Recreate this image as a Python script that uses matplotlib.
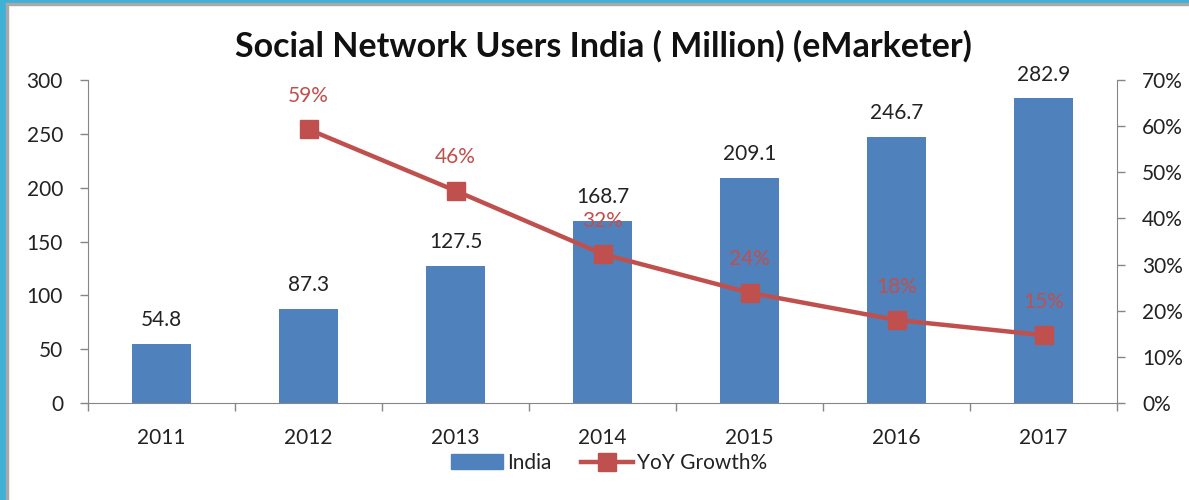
import matplotlib.pyplot as plt
from matplotlib.patches import Rectangle
from matplotlib.ticker import FuncFormatter
from matplotlib.lines import Line2D
from matplotlib.patches import Patch

years = ['2011', '2012', '2013', '2014', '2015', '2016', '2017']
users = [54.8, 87.3, 127.5, 168.7, 209.1, 246.7, 282.9]
growth_years = ['2012', '2013', '2014', '2015', '2016', '2017']
growth = [0.593, 0.460, 0.323, 0.239, 0.180, 0.147]

bar_color = '#4F81BD'
line_color = '#C0504D'
axis_color = '#868686'

plt.rcParams['font.family'] = ['Lato', 'DejaVu Sans']

fig = plt.figure(figsize=(11.89, 5.0), dpi=100)
ax = fig.add_axes([88/1189, 1 - 403/500, (1117 - 88)/1189, (403 - 80)/500])

x = list(range(len(years)))
bars = ax.bar(x, users, width=0.4, color=bar_color, zorder=2)
ax.bar_label(bars, labels=[f'{v:.1f}' for v in users], padding=10, fontsize=15, color='#222222')

ax.set_xlim(-0.5, len(years) - 0.5)
ax.set_ylim(0, 300)
ax.set_yticks(range(0, 301, 50))
ax.set_xticks(x)
ax.set_xticklabels(years)
ax.set_xticks([i - 0.5 for i in range(len(years) + 1)], minor=True)
ax.tick_params(axis='x', which='major', length=0, pad=18, labelsize=15, colors='#222222')
ax.tick_params(axis='x', which='minor', length=6, width=1, color=axis_color, direction='out')
ax.tick_params(axis='y', length=6, width=1, color=axis_color, pad=12, labelsize=15, labelcolor='#222222')
for s in ['top', 'right']:
    ax.spines[s].set_visible(False)
for s in ['left', 'bottom']:
    ax.spines[s].set_color(axis_color)

ax2 = ax.twinx()
gx = [years.index(y) for y in growth_years]
ax2.plot(gx, growth, color=line_color, linewidth=3.2, marker='s', markersize=12.5, zorder=3)
for xi, g in zip(gx, growth):
    ax2.annotate(f'{g*100:.0f}%', (xi, g), xytext=(0, 24), textcoords='offset points',
                 ha='center', va='center', fontsize=15, color=line_color)
ax2.set_ylim(0, 0.7)
ax2.set_yticks([i / 10 for i in range(8)])
ax2.yaxis.set_major_formatter(FuncFormatter(lambda v, p: f'{v*100:.0f}%'))
ax2.tick_params(axis='y', length=6, width=1, color=axis_color, pad=12, labelsize=15, labelcolor='#222222')
for s in ['top', 'left', 'bottom']:
    ax2.spines[s].set_visible(False)
ax2.spines['right'].set_color(axis_color)

fig.text(603/1189, 1 - 46/500, 'Social Network Users India ( Million) (eMarketer)',
         ha='center', va='center', fontsize=24.5, fontweight='bold', color='#111111')

handles = [Patch(color=bar_color),
           Line2D([], [], color=line_color, linewidth=3.2, marker='s', markersize=12.5)]
fig.legend(handles, ['India', 'YoY Growth%'], loc='center', bbox_to_anchor=(609/1189, 1 - 463/500),
           ncol=2, frameon=False, fontsize=15, handlelength=2.5, handletextpad=0.2,
           columnspacing=1.4, labelcolor='#222222')

# window frame edge seen in the screenshot
fig.add_artist(Rectangle((0, 0), 6/1189, 1, transform=fig.transFigure, color='#3FB0D6', zorder=10))
fig.add_artist(Rectangle((0, 1 - 3/500), 1, 3/500, transform=fig.transFigure, color='#3FB0D6', zorder=10))
fig.add_artist(Rectangle((6/1189, 0), 2/1189, 1 - 3/500, transform=fig.transFigure, color='#A8A8A8', zorder=10))
fig.add_artist(Rectangle((6/1189, 1 - 5/500), 1, 2/500, transform=fig.transFigure, color='#A8A8A8', zorder=10))

fig.savefig('out.png', dpi=100)
